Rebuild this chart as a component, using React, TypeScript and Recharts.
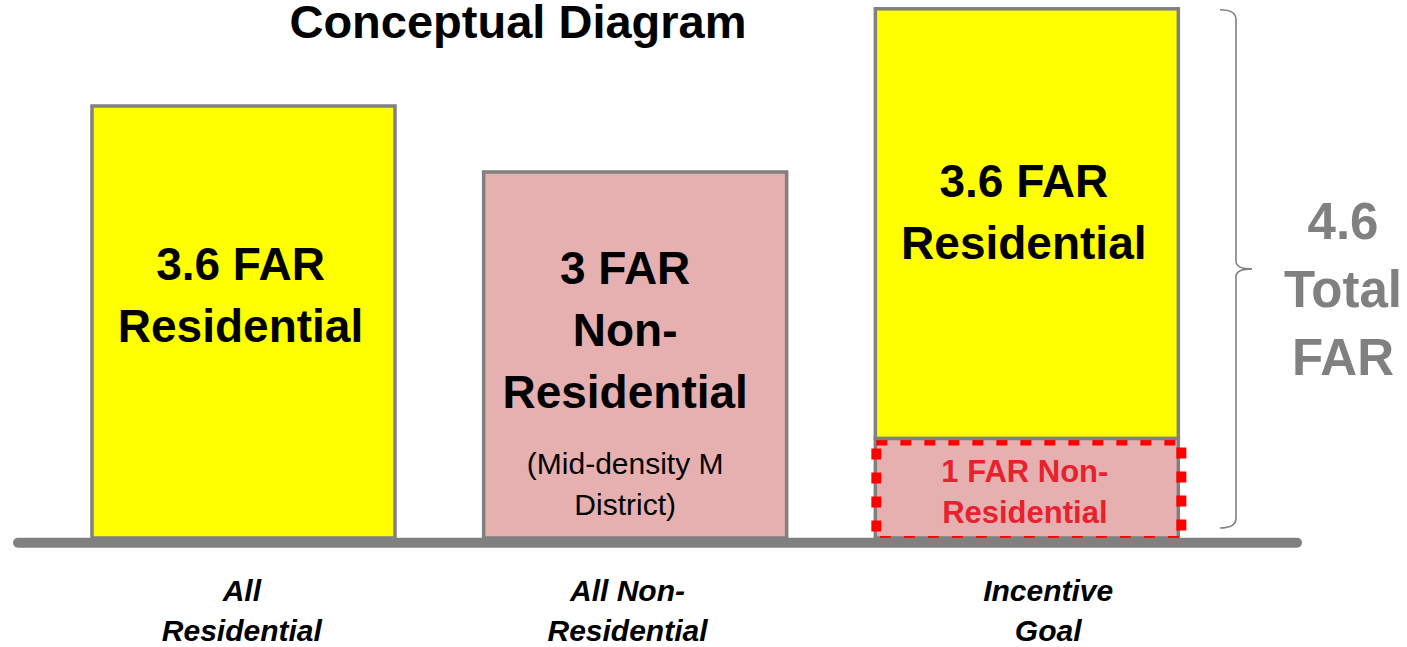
import React from 'react';
import {
  BarChart, Bar, XAxis, YAxis, LabelList, ReferenceLine, ReferenceArea, Customized
} from 'recharts';

// conceptual diagram: bar heights are read off the picture (not drawn to scale)
const categories = ['All Residential', 'All Non-Residential', 'Incentive Goal'];
const tickLines = [['All', 'Residential'], ['All Non-', 'Residential'], ['Incentive', 'Goal']];
const residential = [3.6, 0, 3.58];
const nonResidential = [0, 3.05, 0.83];
const residentialLabels = [['3.6 FAR', 'Residential'], [], ['3.6 FAR', 'Residential']];
const nonResidentialLabels = [[], ['3 FAR', 'Non-', 'Residential'], ['1 FAR Non-', 'Residential']];
const nonResidentialNotes = [[], ['(Mid-density M', 'District)'], []];
const totalLabel = ['4.6', 'Total', 'FAR'];
const title = 'Conceptual Diagram';

const data = categories.map((name, i) => ({
  name,
  residential: residential[i],
  nonResidential: nonResidential[i],
}));
const incentiveTotal = residential[2] + nonResidential[2];

const FONT = '"Liberation Sans", Arial, Helvetica, sans-serif';
const YELLOW = '#FFFF00';
const PINK = '#E6B0B0';
const GRAY = '#808080';
const RED = '#FF0000';
const RED_TEXT = '#E8212F';

// small nudges so the text sits where the slide put it
const resLabelTop = [174, 0, 188];
const tickShift = [-2, -8, 21];

const boxOf = (p: any) => {
  const vb = p.viewBox || {};
  return {
    x: p.x ?? vb.x,
    y: p.y ?? vb.y,
    width: p.width ?? vb.width,
    height: p.height ?? vb.height,
  };
};

const ResidentialShape = (p: any) => {
  if (!p.height || p.height <= 0) return null;
  return (
    <rect x={p.x} y={p.y} width={p.width} height={p.height}
      fill={YELLOW} stroke={GRAY} strokeWidth={3.5} />
  );
};

const NonResidentialShape = (p: any) => {
  if (!p.height || p.height <= 0) return null;
  const incentive = p.index === 2;
  return (
    <g>
      <rect x={p.x} y={p.y} width={p.width} height={p.height}
        fill={PINK} stroke={GRAY} strokeWidth={3.5} />
      {incentive && (
        <rect x={p.x + 1} y={p.y + 2} width={p.width + 2} height={p.height + 1}
          fill="none" stroke={RED} strokeWidth={10} strokeDasharray="11 13" />
      )}
    </g>
  );
};

const ResidentialLabel = (p: any) => {
  const lines = residentialLabels[p.index] || [];
  if (!lines.length) return null;
  const { x, y, width } = boxOf(p);
  const cx = x + width / 2;
  const b1 = y + resLabelTop[p.index];
  return (
    <text textAnchor="middle" fontFamily={FONT} fontWeight="bold" fontSize={46} fill="#000">
      {lines.map((l, i) => (
        <tspan key={i} x={cx - 3} y={b1 + i * 62}>{l}</tspan>
      ))}
    </text>
  );
};

const NonResidentialLabel = (p: any) => {
  const lines = nonResidentialLabels[p.index] || [];
  if (!lines.length) return null;
  const notes = nonResidentialNotes[p.index] || [];
  const { x, y, width, height } = boxOf(p);
  const cx = x + width / 2;
  if (notes.length) {
    return (
      <g>
        <text textAnchor="middle" fontFamily={FONT} fontWeight="bold" fontSize={46} fill="#000">
          {lines.map((l, i) => (
            <tspan key={i} x={cx - 10} y={y + 112 + i * 62}>{l}</tspan>
          ))}
        </text>
        <text textAnchor="middle" fontFamily={FONT} fontSize={30} fill="#000">
          {notes.map((l, i) => (
            <tspan key={i} x={cx - 10} y={y + 302 + i * 41}>{l}</tspan>
          ))}
        </text>
      </g>
    );
  }
  const cy = y + height / 2;
  return (
    <text textAnchor="middle" fontFamily={FONT} fontWeight="bold" fontSize={31} fill={RED_TEXT}>
      {lines.map((l, i) => (
        <tspan key={i} x={cx - 2} y={cy - 6 + i * 41}>{l}</tspan>
      ))}
    </text>
  );
};

const CategoryTick = (p: any) => {
  const idx = p.payload.index;
  const lines = tickLines[idx] || [p.payload.value];
  const tx = p.x + (tickShift[idx] || 0);
  const ty = p.y + 51;
  return (
    <text textAnchor="middle" fontFamily={FONT} fontWeight="bold" fontStyle="italic"
      fontSize={30} fill="#000">
      {lines.map((l: string, i: number) => (
        <tspan key={i} x={tx} y={ty + i * 40}>{l}</tspan>
      ))}
    </text>
  );
};

const Brace = (p: any) => {
  const { x, y, width, height } = p;
  if (x == null || y == null) return null;
  const bx = x + width + 13;
  const top = y + 1;
  const bottom = y + height - 10;
  const mid = (top + bottom) / 2;
  const d = `M ${bx - 16} ${top} Q ${bx} ${top} ${bx} ${top + 10} L ${bx} ${mid - 8}
    Q ${bx} ${mid} ${bx + 16} ${mid} Q ${bx} ${mid} ${bx} ${mid + 8}
    L ${bx} ${bottom - 10} Q ${bx} ${bottom} ${bx - 16} ${bottom}`;
  const tx = bx + 107;
  return (
    <g>
      <path d={d} fill="none" stroke={GRAY} strokeWidth={1.6} />
      <text textAnchor="middle" fontFamily={FONT} fontWeight="bold" fontSize={51} fill={GRAY}>
        {totalLabel.map((l, i) => (
          <tspan key={i} x={tx} y={mid - 30 + i * 68}>{l}</tspan>
        ))}
      </text>
    </g>
  );
};

const Title = () => (
  <text x={518} y={38} textAnchor="middle" fontFamily={FONT} fontWeight="bold"
    fontSize={47} fill="#000">
    {title}
  </text>
);

export default function App() {
  return (
    <div style={{ position: 'absolute', left: 0, top: 0, width: 1407, height: 647, background: '#fff' }}>
      <BarChart
        width={1407}
        height={647}
        data={data}
        margin={{ top: 4, right: 110, left: 18, bottom: 0 }}
        barSize={303}
      >
        <XAxis
          dataKey="name"
          axisLine={false}
          tickLine={false}
          tickSize={0}
          tickMargin={0}
          interval={0}
          height={97}
          padding={{ left: 30, right: 74 }}
          tick={<CategoryTick />}
        />
        <YAxis hide domain={[-0.1, 4.45]} allowDataOverflow />
        <ReferenceLine y={-0.04} stroke={GRAY} strokeWidth={10} strokeLinecap="round" />
        <Bar dataKey="nonResidential" stackId="far" isAnimationActive={false}
          shape={<NonResidentialShape />}>
          <LabelList dataKey="nonResidential" content={<NonResidentialLabel />} />
        </Bar>
        <Bar dataKey="residential" stackId="far" isAnimationActive={false}
          shape={<ResidentialShape />}>
          <LabelList dataKey="residential" content={<ResidentialLabel />} />
        </Bar>
        <ReferenceArea
          x1="Incentive Goal"
          x2="Incentive Goal"
          y1={0}
          y2={incentiveTotal}
          ifOverflow="visible"
          fill="none"
          shape={<Brace />}
        />
        <Customized component={<Title />} />
      </BarChart>
    </div>
  );
}
